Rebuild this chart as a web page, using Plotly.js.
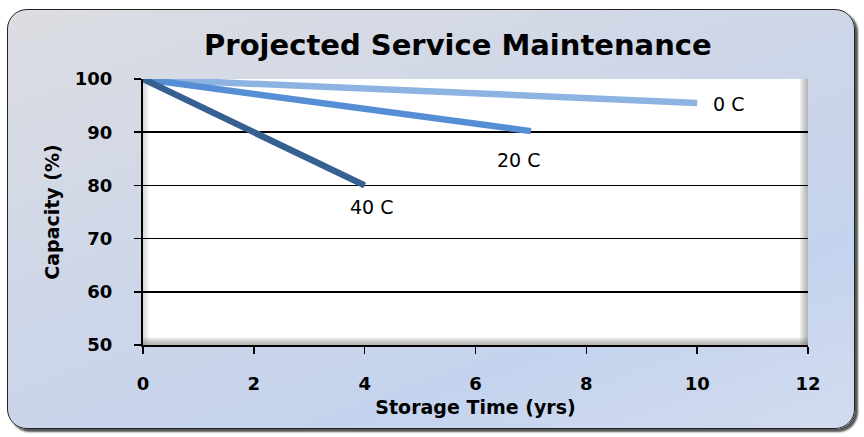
<!DOCTYPE html>
<html><head><meta charset="utf-8">
<script src="https://cdn.plot.ly/plotly-3.0.1.min.js"></script>
<style>
html,body{margin:0;padding:0;background:#fff;width:864px;height:437px;overflow:hidden;}
#bg{position:absolute;left:7px;top:9px;width:846px;height:418px;border:1.5px solid #222;border-radius:20px;
background:linear-gradient(160deg,#dcdde2 0%,#cdd6e8 45%,#c4d3ee 75%,#d2dcef 100%);box-shadow:3px 3px 2px #555;}
#chart{position:absolute;left:0;top:0;width:864px;height:437px;}
</style></head><body>
<div id="bg"></div>
<div id="chart"></div>
<script>
const x0C = [0, 10];
const y0C = [100, 95.5];
const x20C = [0, 7];
const y20C = [100, 90.2];
const x40C = [0, 4];
const y40C = [100, 80];
const seriesNames = ['0 C', '20 C', '40 C'];
const xTicks = [0, 2, 4, 6, 8, 10, 12];
const yTicks = [50, 60, 70, 80, 90, 100];

const F = 'DejaVu Sans, Verdana, sans-serif';
const traces = [
  {x: x0C, y: y0C, name: seriesNames[0], mode: 'lines', line: {color: '#8db3e2', width: 6.5}},
  {x: x20C, y: y20C, name: seriesNames[1], mode: 'lines', line: {color: '#558ed5', width: 6.5}},
  {x: x40C, y: y40C, name: seriesNames[2], mode: 'lines', line: {color: '#376092', width: 6.5}}
];
function shade(side, n, total, alpha) {
  const s = [];
  for (let i = 1; i <= n; i++) {
    const f = total * i / n;
    let r = {type: 'rect', xref: 'paper', yref: 'paper', fillcolor: 'rgba(110,110,110,' + alpha + ')', line: {width: 0}, layer: 'below'};
    if (side === 'r') { r.x0 = 1 - f; r.x1 = 1; r.y0 = 0; r.y1 = 1; }
    if (side === 'b') { r.x0 = 0; r.x1 = 1; r.y0 = 0; r.y1 = f; }
    if (side === 'l') { r.x0 = 0; r.x1 = f; r.y0 = 0; r.y1 = 1; }
    s.push(r);
  }
  return s;
}
const layout = {
  width: 864, height: 437,
  margin: {l: 143, r: 56, t: 79, b: 92},
  paper_bgcolor: 'rgba(0,0,0,0)',
  plot_bgcolor: '#ffffff',
  showlegend: false,
  title: {text: 'Projected Service Maintenance', font: {family: F, size: 29, color: '#000', weight: 'bold'}, x: 0.53, xanchor: 'center', y: 0.897, yanchor: 'middle'},
  xaxis: {range: [0, 12], tickvals: xTicks, ticks: 'outside', ticklen: 7, tickwidth: 1.5, tickcolor: '#000',
    showline: true, linecolor: '#000', linewidth: 2, showgrid: false, zeroline: false,
    ticklabelstandoff: 14, tickfont: {family: F, size: 18, color: '#000', weight: 'bold'},
    title: {text: 'Storage Time (yrs)', font: {family: F, size: 19, color: '#000', weight: 'bold'}, standoff: 8}},
  yaxis: {range: [50, 100], tickvals: yTicks, ticks: 'outside', ticklen: 7, tickwidth: 1.5, tickcolor: '#000',
    showline: true, linecolor: '#000', linewidth: 2, showgrid: true, gridcolor: '#000', gridwidth: 1.5, zeroline: false,
    ticklabelstandoff: 18, tickfont: {family: F, size: 18, color: '#000', weight: 'bold'},
    title: {text: 'Capacity (%)', font: {family: F, size: 19, color: '#000', weight: 'bold'}, standoff: 10}},
  shapes: [].concat(shade('r', 5, 0.012, 0.12), shade('b', 5, 0.028, 0.12), shade('l', 4, 0.009, 0.07)),
  annotations: [
    {x: x0C[1], y: y0C[1], text: seriesNames[0], showarrow: false, xanchor: 'left', yanchor: 'middle', xshift: 14, yshift: -1, font: {family: F, size: 19, color: '#000'}},
    {x: x20C[1], y: y20C[1], text: seriesNames[1], showarrow: false, xanchor: 'center', yanchor: 'middle', xshift: -12, yshift: -29, font: {family: F, size: 19, color: '#000'}},
    {x: x40C[1], y: y40C[1], text: seriesNames[2], showarrow: false, xanchor: 'center', yanchor: 'middle', xshift: 7, yshift: -22, font: {family: F, size: 19, color: '#000'}}
  ]
};
Plotly.newPlot('chart', traces, layout, {displayModeBar: false, staticPlot: true});
</script>
</body></html>
